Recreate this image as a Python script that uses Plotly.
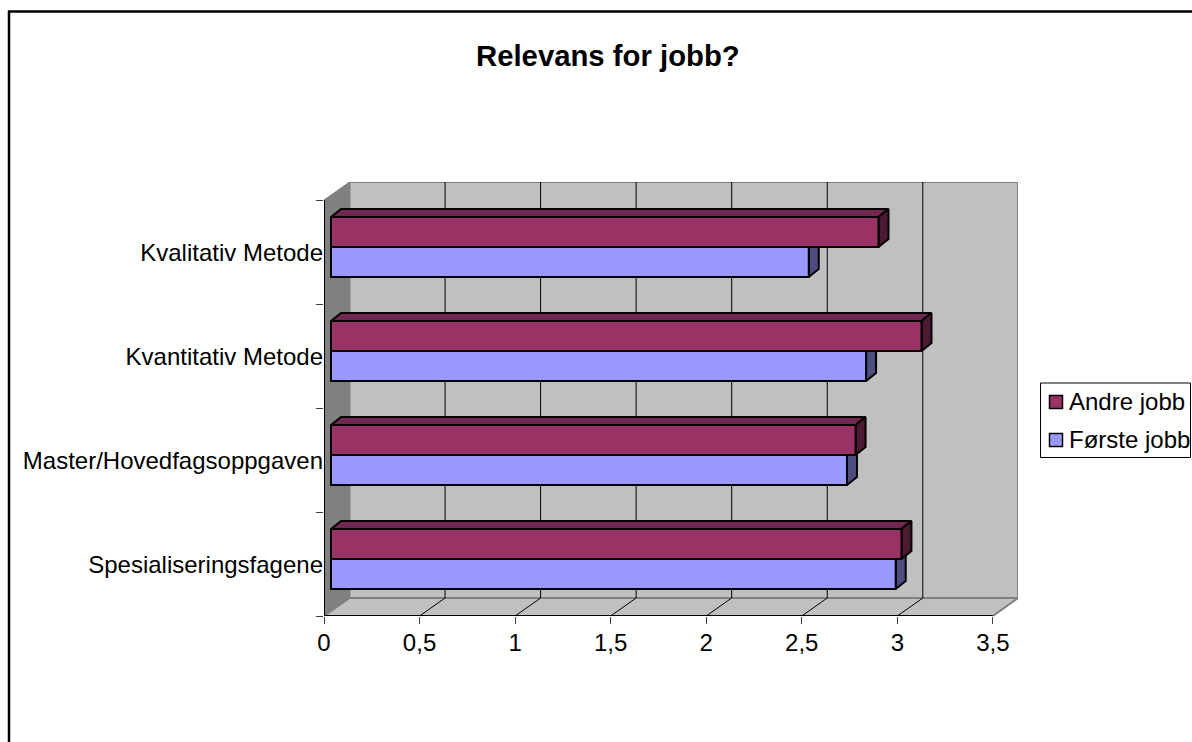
import plotly.graph_objects as go

categories = ["Spesialiseringsfagene", "Master/Hovedfagsoppgaven", "Kvantitativ Metode", "Kvalitativ Metode"]
forste_jobb = [2.955, 2.70, 2.80, 2.50]
andre_jobb = [2.985, 2.745, 3.09, 2.865]
x_ticks = [0, 0.5, 1, 1.5, 2, 2.5, 3, 3.5]
x_tick_labels = ["0", "0,5", "1", "1,5", "2", "2,5", "3", "3,5"]
title = "Relevans for jobb?"
series_names = ["Andre jobb", "Første jobb"]

# layout geometry (pixels in the 1192x742 page)
W, H = 1192, 742
L, R, T, B = 324, 1018, 182, 616
PX_PER_X = 191.1
PX_PER_Y = 104.0
WALL_DX, WALL_DY = 25.5 / PX_PER_X, 18 / PX_PER_Y
BAR_DX, BAR_DY = 7 / PX_PER_X, 5 / PX_PER_Y
DEPTH_DX, DEPTH_DY = 10 / PX_PER_X, 8 / PX_PER_Y
BAR_H = 30 / PX_PER_Y
LABEL_SHIFT = 0.8 / PX_PER_Y
XMAX = (R - L) / PX_PER_X
YMIN = -0.5
YMAX = YMIN + (B - T) / PX_PER_Y
XFRONT = x_ticks[-1]
YFRONT = len(categories) - 0.5

C_ANDRE, C_ANDRE_TOP, C_ANDRE_SIDE = "#993366", "#732650", "#4d1a33"
C_FORSTE, C_FORSTE_TOP, C_FORSTE_SIDE = "#9999ff", "#7373bf", "#4d4d80"
WALL, WALL_DARK, EDGE = "#c0c0c0", "#808080", "#000000"
FONT = "Liberation Sans, Arial, sans-serif"
FS = 24


def px(x):
    return (x - L) / (R - L)


def py(y):
    return (B - y) / (B - T)


def poly(xs, ys, fill, line=None, z=0, w=2):
    return go.Scatter(
        x=xs, y=ys, mode="lines", fill="toself" if fill else None, fillcolor=fill,
        line=dict(color=line or fill or EDGE, width=w), showlegend=False,
        hoverinfo="skip", cliponaxis=False, zorder=z,
    )


fig = go.Figure()

# walls and floor
fig.add_trace(poly([WALL_DX, XMAX, XMAX, WALL_DX, WALL_DX],
                   [YMIN + WALL_DY, YMIN + WALL_DY, YMAX, YMAX, YMIN + WALL_DY], WALL, WALL_DARK, w=2))
fig.add_trace(poly([0, XFRONT, XMAX, WALL_DX, 0],
                   [YMIN, YMIN, YMIN + WALL_DY, YMIN + WALL_DY, YMIN], WALL, WALL_DARK, w=2))
fig.add_trace(poly([0, WALL_DX, WALL_DX, 0, 0],
                   [YMIN, YMIN + WALL_DY, YMAX, YFRONT, YMIN], WALL_DARK, WALL_DARK, w=1))

# gridlines across floor and back wall
for t in x_ticks[1:-1]:
    fig.add_trace(poly([t, t + WALL_DX, t + WALL_DX],
                       [YMIN, YMIN + WALL_DY, YMAX], None, EDGE, w=1))
# front axis edges
fig.add_trace(poly([0, 0, XFRONT], [YFRONT, YMIN, YMIN], None, EDGE, w=2))


def add_series(values, offset, name, col, top, side, z):
    ys = [i + offset + BAR_DY for i in range(len(values))]
    for v, y in zip(values, ys):
        x0, x1 = BAR_DX, BAR_DX + v
        yt, yb = y + BAR_H / 2, y - BAR_H / 2
        fig.add_trace(poly([x0, x1, x1 + DEPTH_DX, x0 + DEPTH_DX, x0],
                           [yt, yt, yt + DEPTH_DY, yt + DEPTH_DY, yt], top, EDGE, z))
        fig.add_trace(poly([x1, x1 + DEPTH_DX, x1 + DEPTH_DX, x1, x1],
                           [yb, yb + DEPTH_DY, yt + DEPTH_DY, yt, yb], side, EDGE, z))
    fig.add_trace(go.Bar(
        x=values, y=ys, base=BAR_DX, width=BAR_H, orientation="h", name=name,
        marker=dict(color=col, line=dict(color=EDGE, width=2)),
        showlegend=False, zorder=z + 1, hovertemplate="%{x}<extra>" + name + "</extra>",
    ))


add_series(forste_jobb, -BAR_H / 2, series_names[1], C_FORSTE, C_FORSTE_TOP, C_FORSTE_SIDE, 1)
add_series(andre_jobb, BAR_H / 2, series_names[0], C_ANDRE, C_ANDRE_TOP, C_ANDRE_SIDE, 3)

shapes = [
    dict(type="line", xref="paper", yref="paper", x0=px(8), x1=px(W), y0=py(11.5), y1=py(11.5),
         line=dict(color=EDGE, width=2.5)),
    dict(type="line", xref="paper", yref="paper", x0=px(9), x1=px(9), y0=py(11), y1=py(H),
         line=dict(color=EDGE, width=2.5)),
    dict(type="rect", xref="paper", yref="paper", x0=px(1040.5), x1=px(1190.5), y0=py(383), y1=py(457.5),
         line=dict(color=EDGE, width=1), fillcolor="white"),
]
annotations = []
for name, col, yc, ty in zip(series_names, [C_ANDRE, C_FORSTE], [402, 440], [401, 439]):
    shapes.append(dict(type="rect", xref="paper", yref="paper", x0=px(1049.5), x1=px(1062.5),
                       y0=py(yc + 6.5), y1=py(yc - 6.5), fillcolor=col,
                       line=dict(color=EDGE, width=1.5)))
    annotations.append(dict(text=name, xref="paper", yref="paper", x=px(1069), y=py(ty),
                            xanchor="left", yanchor="middle", showarrow=False, borderpad=0, borderwidth=0,
                            font=dict(family=FONT, size=FS, color="black")))

annotations.append(dict(text="<b>" + title + "</b>", xref="paper", yref="paper", x=px(607.5), y=py(55),
                        xanchor="center", yanchor="middle", showarrow=False,
                        font=dict(family=FONT, size=29.3, color="black")))

fig.update_layout(
    width=W, height=H,
    margin=dict(l=L, r=W - R, t=T, b=H - B, pad=0),
    paper_bgcolor="white", plot_bgcolor="white",
    barmode="overlay", showlegend=False,
    font=dict(family=FONT, size=FS, color="black"),
    shapes=shapes, annotations=annotations,
    xaxis=dict(range=[0, XMAX], tickmode="array", tickvals=x_ticks, ticktext=x_tick_labels,
               ticks="outside", ticklen=7, tickwidth=1, tickcolor="#404040",
               showgrid=False, zeroline=False, showline=False, ticklabelstandoff=-2,
               tickfont=dict(family=FONT, size=FS, color="black")),
    yaxis=dict(range=[YMIN, YMAX], tickmode="array",
               tickvals=[i - LABEL_SHIFT for i in range(len(categories))],
               ticktext=categories, ticks="", showgrid=False, zeroline=False, showline=False,
               tickfont=dict(family=FONT, size=FS, color="black"),
               minor=dict(tickmode="array", tickvals=[i - 0.5 for i in range(len(categories) + 1)],
                          ticks="outside", ticklen=7, tickwidth=1, tickcolor="#404040")),
)

fig.write_html("out.html", config=dict(displayModeBar=False),
               post_script="document.body.style.margin='0';")
